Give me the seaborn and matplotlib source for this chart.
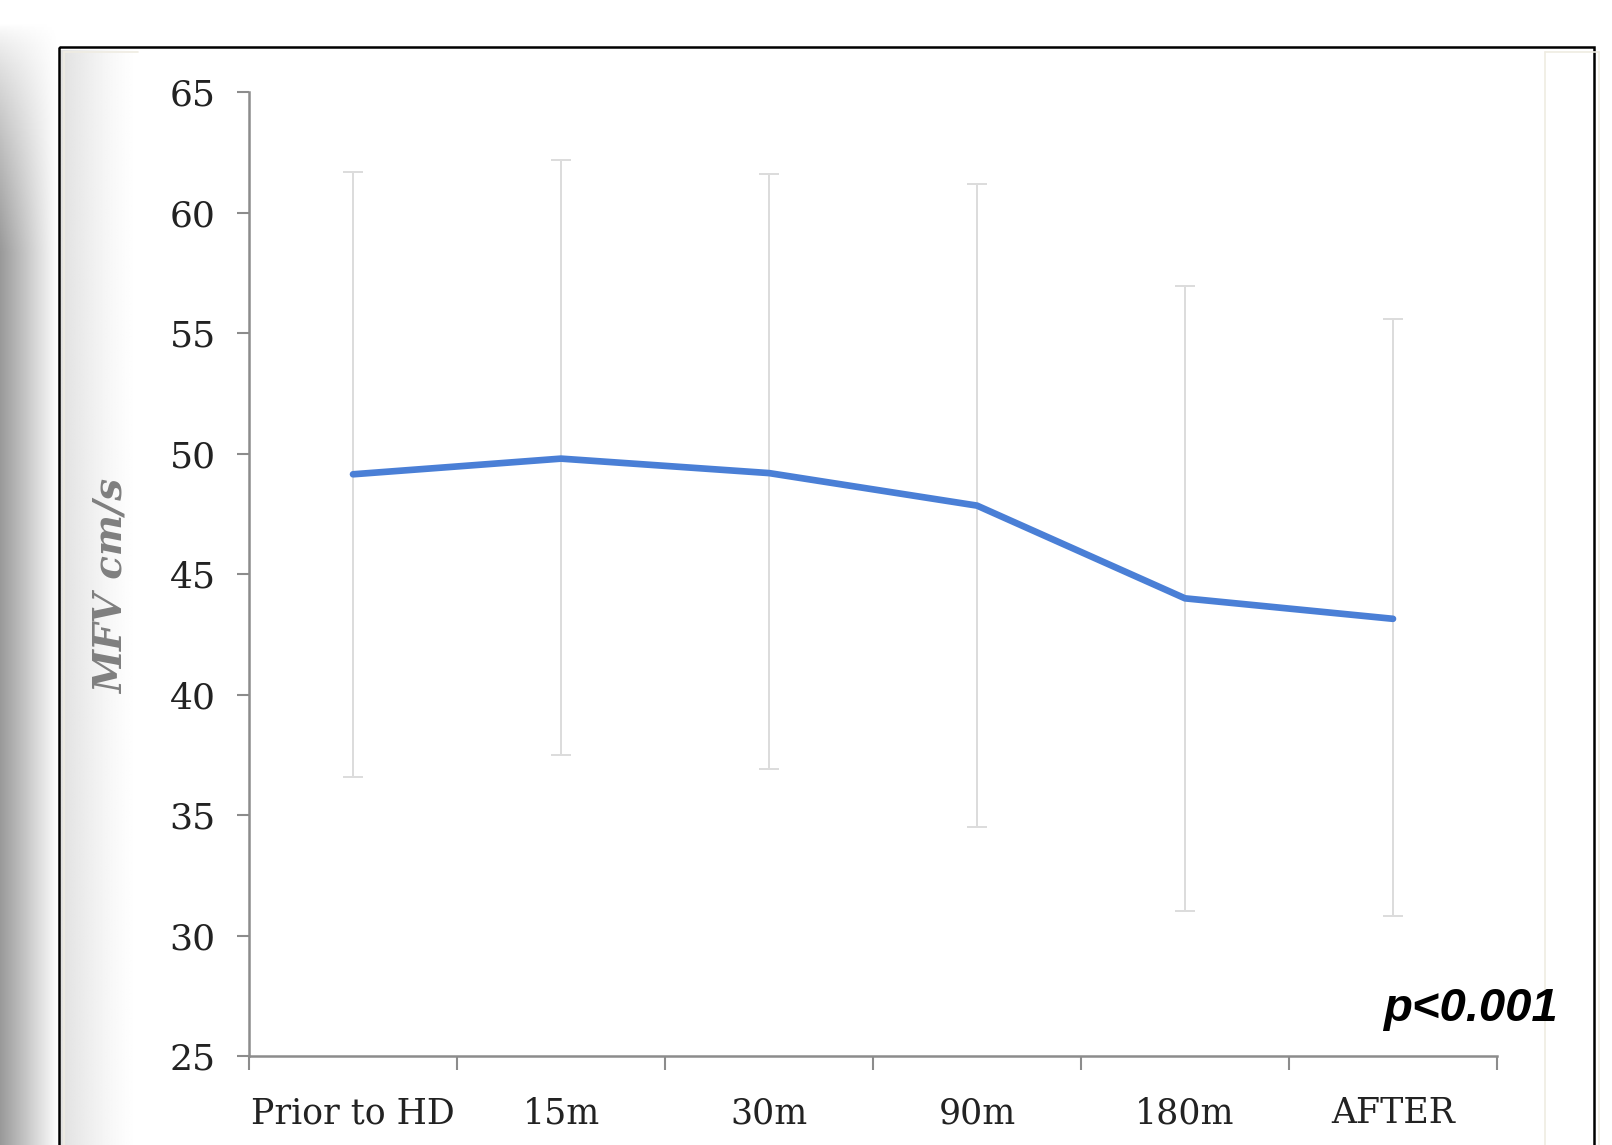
import numpy as np
import pandas as pd
import matplotlib
matplotlib.use("Agg")
import matplotlib.pyplot as plt
import seaborn as sns
from matplotlib.patches import Rectangle

# ---- data ----
categories = ["Prior to HD", "15m", "30m", "90m", "180m", "AFTER"]
mean_mfv = [49.15, 49.8, 49.2, 47.85, 44.0, 43.15]
upper_mfv = [61.7, 62.2, 61.6, 61.2, 56.95, 55.6]
lower_mfv = [36.6, 37.5, 36.9, 34.5, 31.0, 30.8]
y_ticks = [25, 30, 35, 40, 45, 50, 55, 60, 65]

df = pd.DataFrame({"time": categories, "mfv": mean_mfv})
err_lo = np.array(mean_mfv) - np.array(lower_mfv)
err_hi = np.array(upper_mfv) - np.array(mean_mfv)

sns.set_style("white")
plt.rcParams["font.family"] = ["DejaVu Serif"]

W, H = 1612, 1145
fig = plt.figure(figsize=(W / 100, H / 100), dpi=100)
fig.patch.set_facecolor("white")

# background decoration axes (shadow + frame)
bg = fig.add_axes([0, 0, 1, 1], zorder=0)
bg.set_xlim(0, W)
bg.set_ylim(H, 0)
bg.axis("off")
xs = np.linspace(0, 1, 60)
ys = np.linspace(0, 1, 400)
X, Y = np.meshgrid(xs, ys)
fade_y = np.clip((Y - 0.02) / 0.2, 0, 1) ** 0.7
shade = 1 - 0.40 * (1 - X) ** 1.0 * fade_y
bg.imshow(shade, cmap="gray", vmin=0, vmax=1, extent=[0, 59, H, 0], aspect="auto", interpolation="bilinear")
xs2 = np.linspace(0, 1, 80)
X2, Y2 = np.meshgrid(xs2, ys)
shade2 = 1 - 0.12 * (1 - X2) ** 1.3
bg.imshow(shade2, cmap="gray", vmin=0, vmax=1, extent=[60, 138, H, 50], aspect="auto", interpolation="bilinear")
bg.plot([64, 64], [52, H], color="#efece2", lw=1.2)
bg.plot([64, 138], [52, 52], color="#efece2", lw=1.2)
bg.plot([1545, 1545], [52, H], color="#efece2", lw=1.2)
bg.plot([1545, 1599], [52, 52], color="#efece2", lw=1.2)
bg.plot([1599, 1599], [52, H], color="#efece2", lw=1.2)
bg.add_patch(Rectangle((59, 47), 1535, 1200, fill=False, edgecolor="black", lw=1.8))

# main axes
left, right = 249, 1497
top, bottom = 92.5, 1056
ax = fig.add_axes([left / W, 1 - bottom / H, (right - left) / W, (bottom - top) / H], zorder=2)
ax.patch.set_alpha(0)

ax.errorbar(np.arange(len(categories)), mean_mfv, yerr=[err_lo, err_hi], fmt="none",
            ecolor="#dcdcdc", elinewidth=1.4, capsize=7.5, capthick=1.4, zorder=1)
sns.lineplot(data=df, x=np.arange(len(categories)), y="mfv", sort=False, ax=ax,
             color="#4a7fd6", linewidth=4.8, zorder=3)

ax.set_xlim(-0.5, len(categories) - 0.5)
ax.set_ylim(y_ticks[0], y_ticks[-1])
ax.set_yticks(y_ticks)
ax.set_yticklabels([str(v) for v in y_ticks], fontsize=26, color="#222222")
ax.set_xticks(np.arange(-0.5, len(categories), 1.0))
ax.set_xticklabels([])
ax.set_xticks(np.arange(len(categories)), minor=True)
ax.set_xticklabels(categories, minor=True, fontsize=25, color="#222222")
ax.tick_params(axis="x", which="major", direction="out", length=10, width=1.5, color="#8c8c8c", bottom=True)
ax.tick_params(axis="x", which="minor", length=0, pad=29, bottom=True)
ax.tick_params(axis="y", direction="out", length=9, width=1.5, color="#8c8c8c", pad=15, left=True)

for s in ["top", "right"]:
    ax.spines[s].set_visible(False)
for s in ["left", "bottom"]:
    ax.spines[s].set_color("#8c8c8c")
    ax.spines[s].set_linewidth(1.8)
ax.set_xlabel("")
ax.set_ylabel("")

fig.text(112 / W, 1 - 586 / H, "MFV cm/s", rotation=90, ha="center", va="center",
         fontsize=28, fontweight="bold", fontstyle="italic", color="#7f7f7f", family="DejaVu Serif")
fig.text(1383 / W, 1 - 1021 / H, "p<0.001", ha="left", va="baseline",
         fontsize=34, fontweight="bold", fontstyle="italic", color="black", family="Liberation Sans")

fig.savefig("out.png", dpi=100)
